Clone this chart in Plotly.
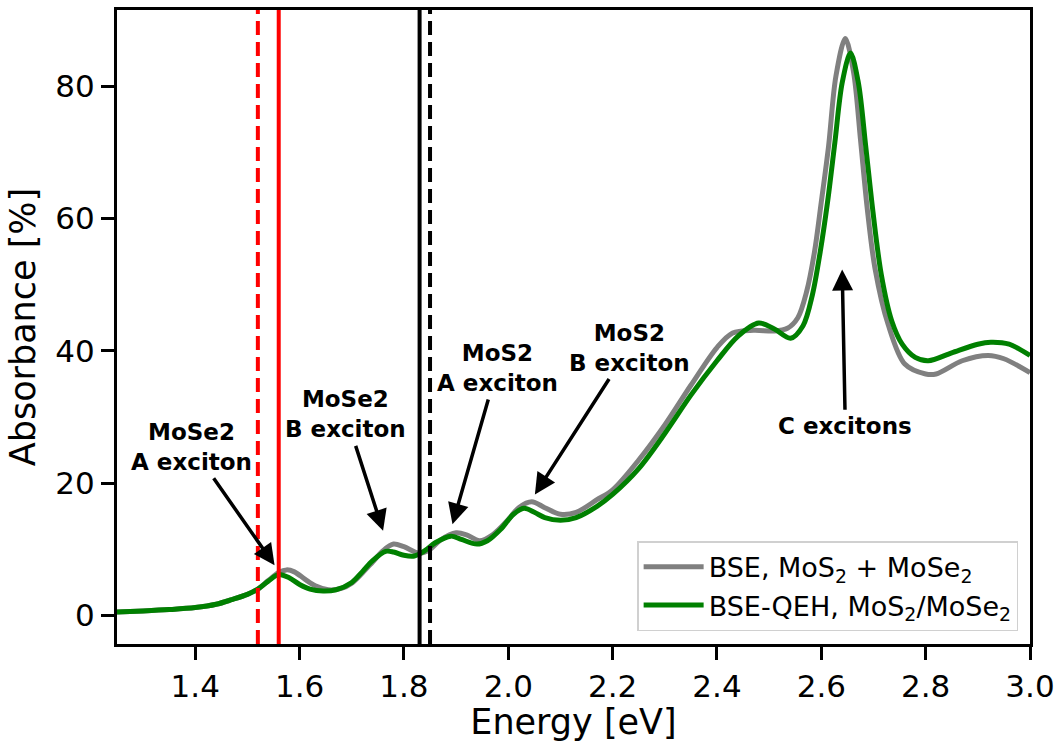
import plotly.graph_objects as go

# Absorbance spectra (Energy in eV, absorbance in %)
bse_energy = [1.25, 1.30, 1.35, 1.40, 1.44, 1.47, 1.50, 1.52, 1.54, 1.56, 1.575, 1.59, 1.61, 1.63,
              1.655, 1.68, 1.70, 1.72, 1.74, 1.76, 1.78, 1.80, 1.83, 1.85, 1.87, 1.90, 1.92, 1.945,
              1.97, 2.00, 2.02, 2.045, 2.07, 2.10, 2.13, 2.17, 2.20, 2.25, 2.30, 2.35, 2.40, 2.43,
              2.47, 2.51, 2.535, 2.555, 2.572, 2.587, 2.60, 2.614, 2.628, 2.646, 2.662, 2.675,
              2.688, 2.703, 2.728, 2.76, 2.80, 2.82, 2.87, 2.92, 2.95, 3.00]
bse_absorb = [0.55, 0.7, 0.9, 1.2, 1.7, 2.4, 3.2, 4.0, 5.3, 6.5, 6.9, 6.6, 5.5, 4.5,
              3.9, 4.1, 4.9, 6.4, 8.1, 9.8, 10.8, 10.4, 9.4, 10.0, 11.4, 12.5, 12.2, 11.3,
              12.2, 14.5, 16.3, 17.2, 16.3, 15.3, 15.6, 17.5, 19.0, 23.5, 28.8, 34.8, 40.5, 42.7,
              43.1, 43.0, 43.4, 45.0, 49.0, 55.0, 62.5, 71.0, 81.5, 87.2, 82.0, 72.0,
              61.5, 52.4, 44.0, 38.0, 36.5, 36.5, 38.5, 39.3, 38.8, 36.7]

qeh_energy = [1.25, 1.30, 1.35, 1.40, 1.44, 1.47, 1.50, 1.52, 1.54, 1.56, 1.58, 1.60, 1.62, 1.645,
              1.67, 1.70, 1.72, 1.74, 1.765, 1.78, 1.80, 1.82, 1.84, 1.86, 1.89, 1.91, 1.94, 1.96,
              1.985, 2.01, 2.03, 2.05, 2.07, 2.10, 2.13, 2.17, 2.20, 2.25, 2.30, 2.35, 2.40, 2.44,
              2.48, 2.51, 2.541, 2.565, 2.583, 2.598, 2.612, 2.626, 2.640, 2.656, 2.671, 2.685,
              2.699, 2.715, 2.735, 2.755, 2.78, 2.805, 2.85, 2.90, 2.925, 2.96, 3.00]
qeh_absorb = [0.55, 0.7, 0.9, 1.2, 1.7, 2.4, 3.2, 4.0, 5.2, 6.2, 5.7, 4.7, 4.0, 3.7,
              3.9, 5.0, 6.6, 8.3, 9.7, 9.6, 9.1, 9.0, 9.8, 11.0, 12.0, 11.5, 10.8, 11.3,
              13.0, 15.3, 16.2, 15.6, 14.8, 14.4, 14.8, 16.5, 18.3, 22.2, 27.5, 33.3, 38.5, 42.2,
              44.2, 43.3, 41.9, 43.8, 48.5, 55.0, 62.5, 71.5, 80.5, 85.0, 80.5, 71.0,
              61.0, 51.5, 44.5, 41.0, 39.0, 38.5, 39.7, 41.0, 41.3, 41.0, 39.3]

# Exciton energy markers: position, colour, dash
marker_energy = [1.52, 1.56, 1.83, 1.85]
marker_color = ["red", "red", "black", "black"]
marker_dash = ["14px,7px", "solid", "solid", "14px,7px"]

# Peak labels: text centre and the point each arrow indicates, in data units
label_text = ["MoSe2<br>A exciton", "MoSe2<br>B exciton", "MoS2<br>A exciton",
              "MoS2<br>B exciton", "C excitons"]
label_x = [1.393, 1.688, 1.979, 2.232, 2.646]
label_y = [25.5, 30.4, 37.4, 40.5, 28.6]
arrow_tip_x = [1.552, 1.760, 1.893, 2.051, 2.640]
arrow_tip_y = [7.6, 12.8, 13.8, 18.3, 52.3]

x_ticks = [1.4, 1.6, 1.8, 2.0, 2.2, 2.4, 2.6, 2.8, 3.0]
y_ticks = [0, 20, 40, 60, 80]

fig = go.Figure()

fig.add_trace(go.Scatter(
    x=bse_energy, y=bse_absorb, mode="lines",
    line=dict(color="#808080", width=5, shape="spline", smoothing=0.9),
    name="BSE, MoS<sub>2</sub> + MoSe<sub>2</sub>",
))
fig.add_trace(go.Scatter(
    x=qeh_energy, y=qeh_absorb, mode="lines",
    line=dict(color="#008000", width=5, shape="spline", smoothing=0.9),
    name="BSE-QEH, MoS<sub>2</sub>/MoSe<sub>2</sub>",
))

for e, c, d in zip(marker_energy, marker_color, marker_dash):
    fig.add_shape(type="line", xref="x", yref="paper", x0=e, x1=e, y0=0, y1=1,
                  line=dict(color=c, width=4, dash=d), layer="above")

# Labels sit at (ax, ay); the arrow runs from the label box to the tip (x, y)
for t, lx, ly, hx, hy in zip(label_text, label_x, label_y, arrow_tip_x, arrow_tip_y):
    fig.add_annotation(x=hx, y=hy, ax=lx, ay=ly, xref="x", yref="y", axref="x", ayref="y",
                       text="<b>" + t + "</b>", align="center",
                       font=dict(family="DejaVu Sans", size=23, color="black"),
                       showarrow=True, arrowhead=2, arrowsize=1.2, arrowwidth=3.5,
                       arrowcolor="black", standoff=0, borderpad=3)

axis_common = dict(
    showline=True, linecolor="black", linewidth=3, mirror=True,
    ticks="outside", ticklen=13, tickwidth=3, tickcolor="black",
    showgrid=False, zeroline=False,
    tickfont=dict(family="DejaVu Sans", size=31, color="black"),
)

fig.update_xaxes(range=[1.25, 3.0], tickvals=x_ticks, tickformat=".1f",
                 title=dict(text="Energy [eV]", standoff=6,
                            font=dict(family="DejaVu Sans", size=35, color="black")),
                 **axis_common)
fig.update_yaxes(range=[-4.3, 91.5], tickvals=y_ticks,
                 title=dict(text="Absorbance [%]", standoff=10,
                            font=dict(family="DejaVu Sans", size=35, color="black")),
                 **axis_common)

fig.update_layout(
    width=1062, height=742,
    margin=dict(l=117, r=30, t=7, b=96),
    plot_bgcolor="white", paper_bgcolor="white",
    legend=dict(x=0.987, y=0.02, xanchor="right", yanchor="bottom",
                bgcolor="rgba(255,255,255,0.8)", bordercolor="#d0d0d0", borderwidth=1.5,
                font=dict(family="DejaVu Sans", size=27, color="black"),
                itemwidth=60),
    showlegend=True,
)

fig.write_html("out.html")
